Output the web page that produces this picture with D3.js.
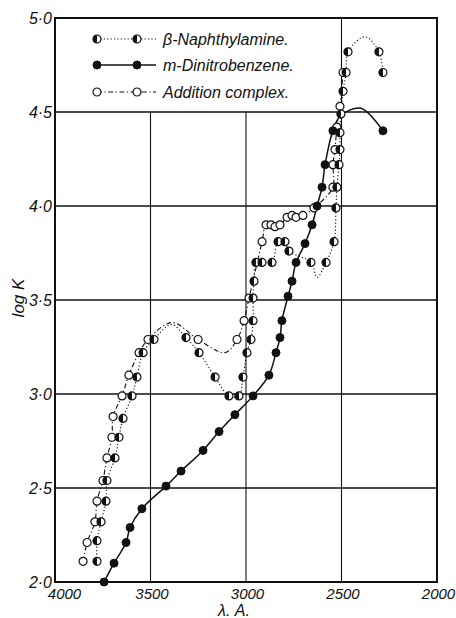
<!DOCTYPE html>
<html><head><meta charset="utf-8">
<script src="https://cdn.jsdelivr.net/npm/d3@7"></script>
<style>
body{margin:0;background:#fff}
text{font-family:"Liberation Sans",Arial,sans-serif;font-style:italic;fill:#111}
</style>
</head><body><svg id="c" width="456" height="618"></svg>
<script>
// ---- data ----
const xTicks = [4000, 3500, 3000, 2500, 2000];
const yTicks = [2.0, 2.5, 3.0, 3.5, 4.0, 4.5, 5.0];
const xTickLabels = ["4000", "3500", "3000", "2500", "2000"];
const yTickLabels = ["2·0", "2·5", "3·0", "3·5", "4·0", "4·5", "5·0"];
const seriesNames = ["β-Naphthylamine.", "m-Dinitrobenzene.", "Addition complex."];
// [wavelength Å, log K, 1 = plotted point / 0 = curve only]
const naphthylamine = [
  [3780,2.11,1],[3780,2.22,1],[3759,2.32,1],[3733,2.43,1],[3728,2.54,1],[3686,2.66,1],
  [3665,2.77,1],[3644,2.87,1],[3597,2.99,1],[3571,3.09,1],[3539,3.22,1],[3482,3.29,1],
  [3390,3.37,0],[3314,3.30,1],[3246,3.22,1],[3162,3.09,1],[3089,2.99,1],[3037,2.99,1],
  [3016,3.09,1],[2995,3.22,1],[2974,3.29,1],[2963,3.39,1],[2963,3.51,1],[2958,3.60,1],
  [2948,3.70,1],[2916,3.70,1],[2864,3.70,1],[2832,3.81,1],[2796,3.81,1],[2775,3.76,1],
  [2660,3.70,1],[2628,3.62,0],[2581,3.70,1],[2539,3.81,1],[2529,3.99,1],[2524,4.10,1],
  [2513,4.22,1],[2508,4.30,1],[2508,4.39,1],[2503,4.49,1],[2492,4.61,1],[2476,4.71,1],
  [2466,4.82,1],[2377,4.90,0],[2304,4.82,1],[2283,4.71,1]
];
const dinitrobenzene = [
  [3743,2.00,1],[3691,2.10,1],[3628,2.21,1],[3607,2.29,1],[3545,2.39,1],[3419,2.51,1],
  [3340,2.59,1],[3225,2.70,1],[3141,2.80,1],[3058,2.89,1],[2963,2.99,1],[2880,3.10,1],
  [2843,3.22,1],[2822,3.30,1],[2812,3.39,1],[2780,3.52,1],[2759,3.60,1],[2738,3.70,1],
  [2691,3.80,1],[2654,3.90,1],[2628,4.00,1],[2602,4.10,1],[2586,4.22,1],[2545,4.40,1],
  [2505,4.48,0],[2398,4.52,0],[2283,4.40,1]
];
const additionComplex = [
  [3853,2.11,1],[3832,2.21,1],[3791,2.32,1],[3780,2.43,1],[3749,2.54,1],[3728,2.66,1],
  [3702,2.77,1],[3696,2.88,1],[3649,2.99,1],[3613,3.10,1],[3560,3.22,1],[3513,3.29,1],
  [3387,3.38,0],[3251,3.29,1],[3110,3.22,0],[3047,3.29,1],[3010,3.39,1],[2984,3.51,1],
  [2916,3.81,1],[2895,3.90,1],[2869,3.90,1],[2848,3.89,1],[2822,3.90,1],[2785,3.94,1],
  [2759,3.95,1],[2738,3.94,1],[2702,3.95,1],[2644,3.99,1],[2545,4.10,1],[2545,4.22,1],
  [2534,4.30,1],[2524,4.42,1],[2508,4.53,1],[2492,4.71,1]
];

// ---- chart ----
const svg = d3.select("#c");
const L = 55, R = 437, T = 18, B = 582;
const x = d3.scaleLinear().domain([4000, 2000]).range([L, R]);
const y = d3.scaleLinear().domain([2, 5]).range([B, T]);
const ink = "#111";

// grid
const g = svg.append("g");
yTicks.filter(v => v > 2 && v < 5).forEach(v => {
  g.append("line").attr("x1", L).attr("x2", R).attr("y1", y(v)).attr("y2", y(v))
    .attr("stroke", ink).attr("stroke-width", 1.3);
});
xTicks.filter(v => v < 4000 && v > 2000).forEach(v => {
  g.append("line").attr("x1", x(v)).attr("x2", x(v))
    .attr("y1", v >= 3000 ? y(4.5) : T).attr("y2", B)
    .attr("stroke", ink).attr("stroke-width", 1.1);
});
// frame
svg.append("rect").attr("x", L).attr("y", T).attr("width", R - L).attr("height", B - T)
  .attr("fill", "none").attr("stroke", ink).attr("stroke-width", 2);

// tick labels
const xAxis = d3.axisBottom(x).tickValues(xTicks).tickSize(0).tickPadding(6)
  .tickFormat((d, i) => xTickLabels[i]);
const xa = svg.append("g").attr("transform", `translate(0,${B})`).call(xAxis);
xa.select(".domain").remove();
xa.selectAll("text").attr("font-size", 15).attr("font-family", null).attr("fill", null)
  .attr("dx", d => d === 4000 ? 9 : 1);
const yAxis = d3.axisLeft(y).tickValues(yTicks).tickSize(0).tickPadding(3)
  .tickFormat((d, i) => yTickLabels[i]);
const ya = svg.append("g").attr("transform", `translate(${L},0)`).call(yAxis);
ya.select(".domain").remove();
ya.selectAll("text").attr("font-size", 16).attr("font-family", null).attr("fill", null);

svg.append("text").attr("x", 234).attr("y", 616).attr("text-anchor", "middle")
  .attr("font-size", 16).text("λ. A.");
svg.append("text").attr("transform", "translate(24,298) rotate(-90)")
  .attr("text-anchor", "middle").attr("font-size", 17).text("log K");

// series
const styles = [
  {data: naphthylamine, dash: "1.2,2.2", width: 1.1, marker: "half"},
  {data: dinitrobenzene, dash: null, width: 1.5, marker: "full"},
  {data: additionComplex, dash: "5,2.5,1.2,2.5", width: 1.1, marker: "open"}
];
const line = d3.line().x(d => x(d[0])).y(d => y(d[1])).curve(d3.curveCatmullRom.alpha(0.5));
const r = 4;
const halfArc = d3.arc().innerRadius(0).outerRadius(r).startAngle(Math.PI).endAngle(2 * Math.PI)();

function drawMarker(sel, kind) {
  if (kind === "full") {
    sel.append("circle").attr("r", r).attr("fill", ink).attr("stroke", ink).attr("stroke-width", 1);
  } else {
    sel.append("circle").attr("r", r).attr("fill", "#fff").attr("stroke", ink).attr("stroke-width", 1.2);
    if (kind === "half") sel.append("path").attr("d", halfArc).attr("fill", ink);
  }
}

styles.forEach(s => {
  svg.append("path").attr("d", line(s.data)).attr("fill", "none").attr("stroke", ink)
    .attr("stroke-width", s.width).attr("stroke-dasharray", s.dash);
});
[2, 0, 1].forEach(i => {
  const s = styles[i];
  svg.append("g").selectAll("g").data(s.data.filter(d => d[2] === 1)).join("g")
    .attr("transform", d => `translate(${x(d[0])},${y(d[1])})`)
    .each(function () { drawMarker(d3.select(this), s.marker); });
});

// legend
const legY = [39, 65, 92];
styles.forEach((s, i) => {
  const lg = svg.append("g").attr("transform", `translate(0,${legY[i]})`);
  lg.append("line").attr("x1", 97).attr("x2", 156).attr("stroke", ink)
    .attr("stroke-width", s.width).attr("stroke-dasharray", s.dash);
  [97, 137].forEach(px => drawMarker(lg.append("g").attr("transform", `translate(${px},0)`), s.marker));
  lg.append("text").attr("x", 163).attr("y", 6).attr("font-size", 16).text(seriesNames[i]);
});
</script>
</body></html>
